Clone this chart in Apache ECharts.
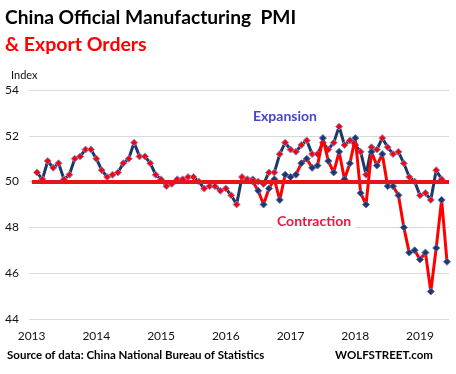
<!DOCTYPE html>
<html>
<head>
<meta charset="utf-8">
<script src="https://cdn.jsdelivr.net/npm/echarts@6/dist/echarts.min.js"></script>
<style>
html,body{margin:0;padding:0;background:#fff;}
#c{width:456px;height:374px;}
</style>
</head>
<body>
<div id="c"></div>
<script>
// Monthly data, month index 0 = Jan 2013
const pmiStart = 0;            // Jan 2013
const pmiValues = [
  50.4, 50.1, 50.9, 50.6, 50.8, 50.1, 50.3, 51.0, 51.1, 51.4, 51.4, 51.0,
  50.5, 50.2, 50.3, 50.4, 50.8, 51.0, 51.7, 51.1, 51.1, 50.8, 50.3, 50.1,
  49.8, 49.9, 50.1, 50.1, 50.2, 50.2, 50.0, 49.7, 49.8, 49.8, 49.6, 49.7,
  49.4, 49.0, 50.2, 50.1, 50.1, 50.0, 49.9, 50.4, 50.4, 51.2, 51.7, 51.4,
  51.3, 51.6, 51.8, 51.2, 51.2, 51.7, 51.4, 51.7, 52.4, 51.6, 51.8, 51.6,
  51.3, 50.3, 51.5, 51.4, 51.9, 51.5, 51.2, 51.3, 50.8, 50.2, 50.0, 49.4,
  49.5, 49.2, 50.5, 50.1
];
const exportStart = 40;        // May 2016
const exportValues = [
  50.0, 49.6, 49.0, 49.7, 50.1, 49.2, 50.3, 50.2,
  50.3, 50.8, 51.0, 50.6, 50.7, 51.9, 50.9, 50.4, 51.3, 50.1, 50.8, 51.9,
  49.5, 49.0, 51.3, 50.7, 51.2, 49.8, 49.8, 49.4, 48.0, 46.9, 47.0, 46.6,
  46.9, 45.2, 47.1, 49.2, 46.5
];
const yearLabels = ['2013', '2014', '2015', '2016', '2017', '2018', '2019'];
const yTicks = { min: 44, max: 54, interval: 2 };
const threshold = 50;

const pmiData = pmiValues.map((v, i) => [pmiStart + i, v]);
const exportData = exportValues.map((v, i) => [exportStart + i, v]);
const yearTickValues = yearLabels.map((y, i) => i * 12 - 1);

const FONT = 'Lato, "Liberation Sans", sans-serif';
const NAVY = '#1f3866';
const RED = '#ff0000';

const chart = echarts.init(document.getElementById('c'), null, { renderer: 'canvas' });
chart.setOption({
  animation: false,
  backgroundColor: '#fff',
  title: [
    { text: 'China Official Manufacturing  PMI', left: 5, top: 8, padding: 0,
      textStyle: { fontFamily: FONT, fontWeight: 'bold', fontSize: 19.2, color: '#000' } },
    { text: '& Export Orders', left: 5, top: 35, padding: 0,
      textStyle: { fontFamily: FONT, fontWeight: 'bold', fontSize: 19.5, color: '#ff0000' } },
    { text: 'Index', left: 11, top: 70, padding: 0,
      textStyle: { fontFamily: FONT, fontWeight: 'normal', fontSize: 11, color: '#111' } },
    { text: 'Expansion', left: 253, top: 109, padding: 0,
      textStyle: { fontFamily: FONT, fontWeight: 'bold', fontSize: 14, color: '#4646c8' } },
    { text: 'Contraction', left: 273, top: 214, padding: [0, 4],
      backgroundColor: '#fff',
      textStyle: { fontFamily: FONT, fontWeight: 'bold', fontSize: 14, color: '#ee1540' } },
    { text: 'Source of data: China National Bureau of Statistics', left: 7, top: 349, padding: 0,
      textStyle: { fontFamily: FONT, fontWeight: 'bold', fontSize: 11.5, color: '#000' } },
    { text: 'WOLFSTREET.com', left: 335, top: 349, padding: 0,
      textStyle: { fontFamily: FONT, fontWeight: 'bold', fontSize: 11.5, color: '#000' } }
  ],
  grid: { left: 29, right: 7, top: 90, bottom: 55, containLabel: false },
  xAxis: {
    type: 'value',
    min: -1.48,
    max: 76.37,
    axisLine: { show: false },
    axisTick: { show: false },
    splitLine: { show: false },
    axisLabel: {
      customValues: yearTickValues,
      formatter: (v) => yearLabels[Math.round((v + 1) / 12)],
      margin: 11,
      fontFamily: FONT,
      fontSize: 12,
      color: '#111'
    }
  },
  yAxis: {
    type: 'value',
    min: yTicks.min,
    max: yTicks.max,
    interval: yTicks.interval,
    axisLine: { show: false },
    axisTick: { show: false },
    splitLine: { lineStyle: { color: '#d9d9d9', width: 1 } },
    axisLabel: { fontFamily: FONT, fontSize: 12, color: '#111', margin: 10 }
  },
  series: [
    {
      name: 'PMI',
      type: 'line',
      data: pmiData,
      z: 3,
      symbol: 'diamond',
      symbolSize: 7,
      lineStyle: { color: NAVY, width: 3 },
      itemStyle: { color: RED, borderColor: '#7d8fe0', borderWidth: 1 }
    },
    {
      name: 'Export Orders',
      type: 'line',
      data: exportData,
      z: 4,
      symbol: 'diamond',
      symbolSize: 7,
      lineStyle: { color: RED, width: 3 },
      itemStyle: { color: NAVY, borderColor: '#5a6db8', borderWidth: 1 }
    },
    {
      name: 'threshold',
      type: 'line',
      data: [],
      z: 5,
      markLine: {
        silent: true,
        symbol: 'none',
        label: { show: false },
        lineStyle: { color: '#e8141c', width: 4, type: 'solid' },
        data: [[{ coord: [-0.95, threshold] }, { coord: [76.37, threshold] }]]
      }
    }
  ]
});
</script>
</body>
</html>
